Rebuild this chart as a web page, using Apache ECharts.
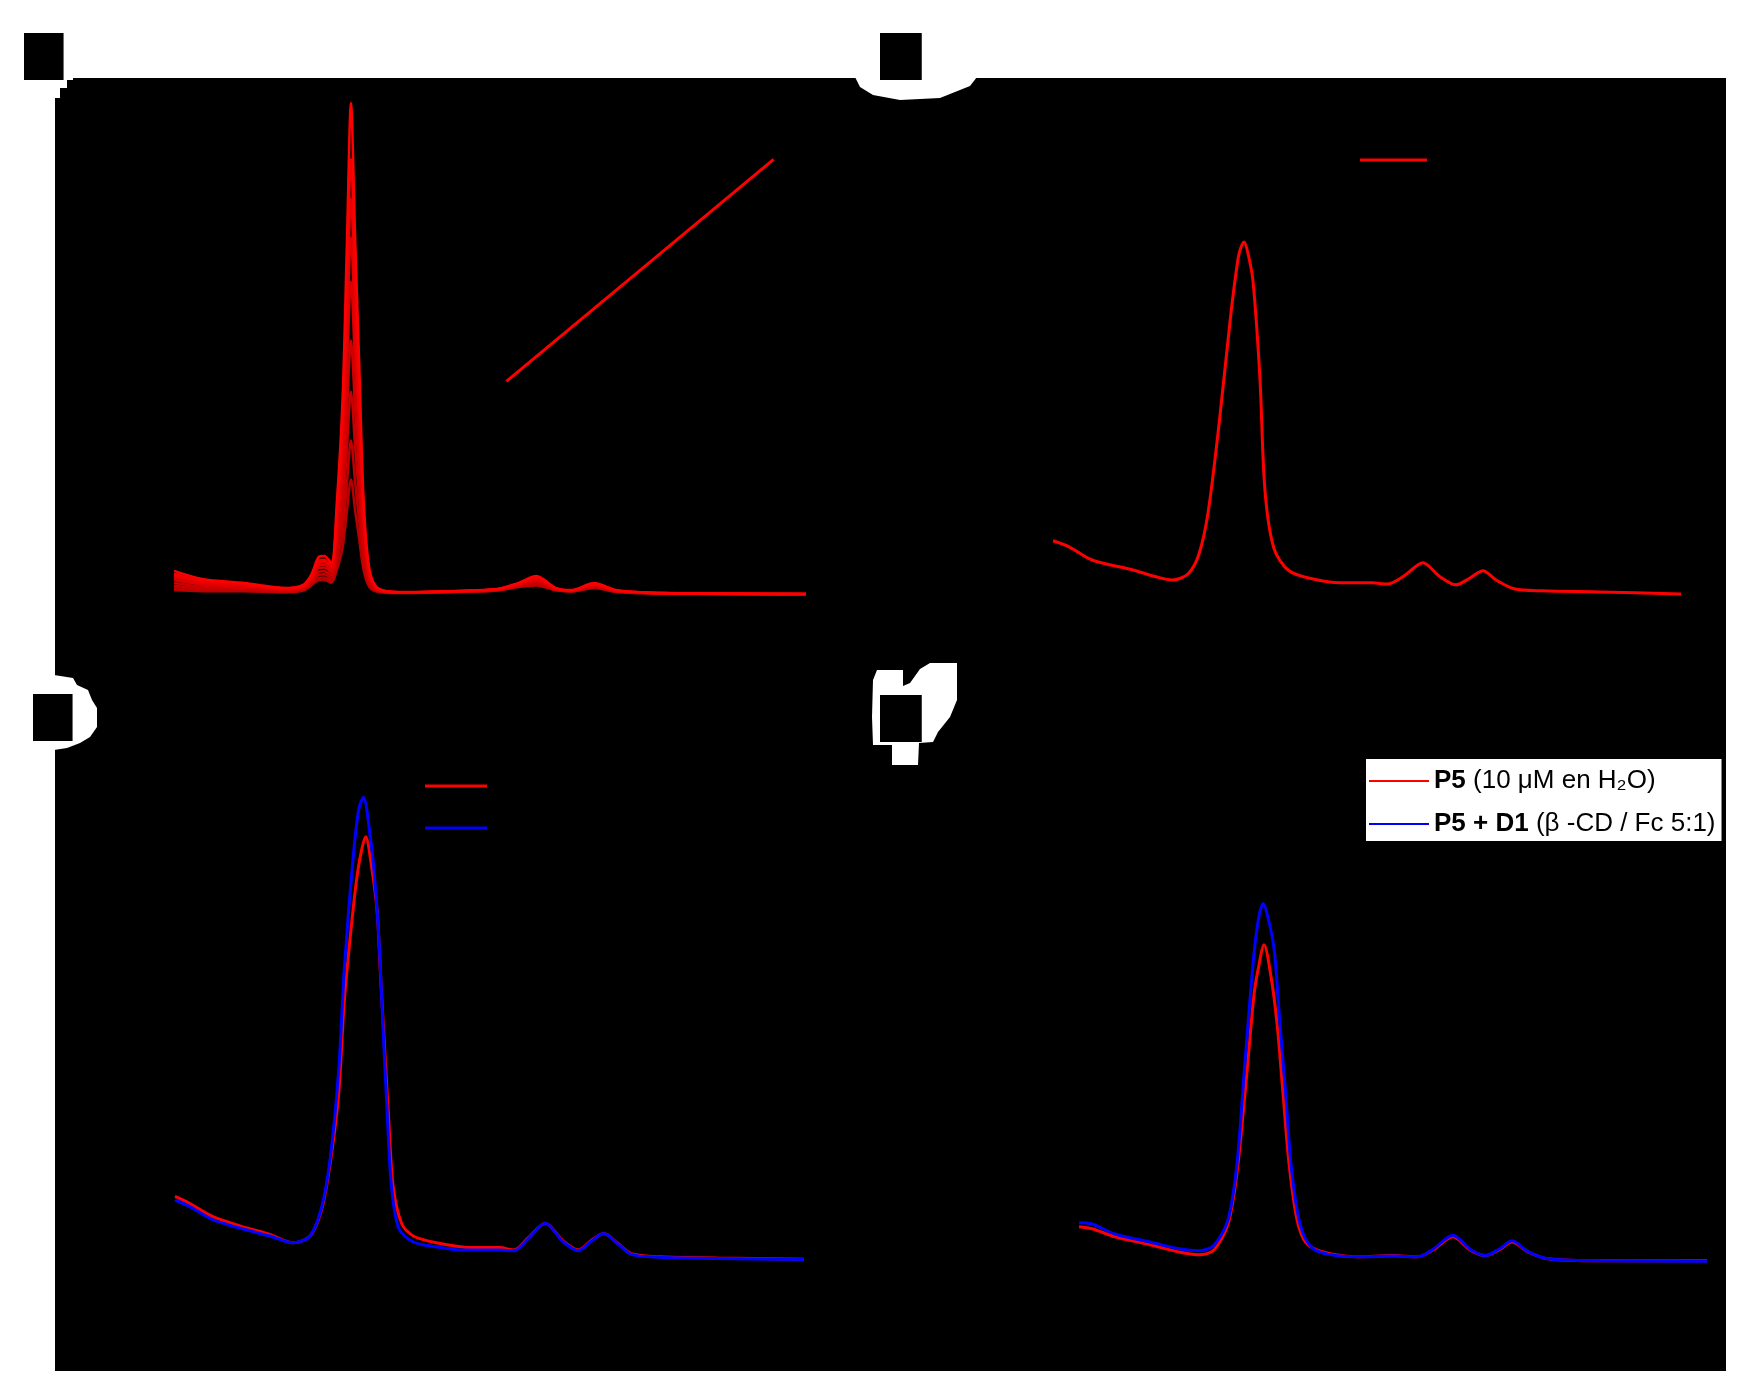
<!DOCTYPE html>
<html>
<head>
<meta charset="utf-8">
<script src="https://cdn.jsdelivr.net/npm/echarts@6/dist/echarts.min.js"></script>
<style>
  html, body { margin: 0; padding: 0; background: #fff; }
  #chart { width: 1755px; height: 1382px; }
</style>
</head>
<body>
<div id="chart"></div>
<script>
// panel a: titration, shared wavelength grid (nm), one absorbance list per addition
const wavelengthsA = [300, 320, 350, 380, 392, 398, 403, 407, 412, 416, 420, 423, 426, 429, 432, 435, 439, 445, 460, 500, 530, 545, 558, 572, 583, 599, 615, 650, 750]
const absA1 = [0.038, 0.034, 0.034, 0.030, 0.036, 0.058, 0.076, 0.077, 0.067, 0.118, 0.202, 0.334, 0.463, 0.343, 0.229, 0.115, 0.051, 0.032, 0.027, 0.031, 0.037, 0.050, 0.056, 0.037, 0.033, 0.046, 0.032, 0.025, 0.022]
const absA2 = [0.046, 0.039, 0.037, 0.031, 0.039, 0.062, 0.085, 0.087, 0.075, 0.145, 0.261, 0.439, 0.613, 0.451, 0.297, 0.143, 0.059, 0.034, 0.028, 0.032, 0.037, 0.051, 0.059, 0.038, 0.034, 0.048, 0.032, 0.025, 0.022]
const absA3 = [0.055, 0.045, 0.041, 0.034, 0.041, 0.067, 0.097, 0.099, 0.085, 0.179, 0.334, 0.570, 0.801, 0.586, 0.382, 0.178, 0.068, 0.035, 0.028, 0.032, 0.038, 0.053, 0.064, 0.039, 0.034, 0.050, 0.033, 0.026, 0.022]
const absA4 = [0.065, 0.051, 0.046, 0.036, 0.044, 0.073, 0.109, 0.111, 0.095, 0.214, 0.412, 0.708, 0.998, 0.728, 0.471, 0.215, 0.078, 0.037, 0.029, 0.033, 0.039, 0.055, 0.069, 0.041, 0.035, 0.053, 0.034, 0.026, 0.022]
const absA5 = [0.077, 0.059, 0.050, 0.038, 0.048, 0.080, 0.123, 0.125, 0.106, 0.256, 0.500, 0.866, 1.225, 0.891, 0.574, 0.257, 0.089, 0.039, 0.029, 0.033, 0.039, 0.058, 0.075, 0.042, 0.036, 0.056, 0.035, 0.026, 0.023]
const absA6 = [0.086, 0.064, 0.054, 0.040, 0.050, 0.085, 0.133, 0.136, 0.115, 0.286, 0.566, 0.984, 1.394, 1.012, 0.650, 0.288, 0.097, 0.041, 0.030, 0.034, 0.040, 0.059, 0.079, 0.043, 0.036, 0.058, 0.036, 0.026, 0.023]
const absA7 = [0.093, 0.069, 0.057, 0.042, 0.053, 0.089, 0.142, 0.146, 0.123, 0.313, 0.625, 1.089, 1.544, 1.120, 0.718, 0.316, 0.105, 0.042, 0.030, 0.034, 0.041, 0.061, 0.083, 0.044, 0.037, 0.060, 0.036, 0.027, 0.023]
const absA8 = [0.101, 0.074, 0.060, 0.044, 0.055, 0.094, 0.152, 0.155, 0.131, 0.341, 0.685, 1.195, 1.696, 1.230, 0.787, 0.345, 0.112, 0.044, 0.030, 0.034, 0.041, 0.063, 0.087, 0.045, 0.037, 0.062, 0.037, 0.027, 0.023]
const absA9 = [0.112, 0.081, 0.065, 0.046, 0.058, 0.100, 0.165, 0.169, 0.142, 0.380, 0.769, 1.346, 1.912, 1.385, 0.885, 0.385, 0.123, 0.046, 0.031, 0.035, 0.042, 0.065, 0.092, 0.046, 0.038, 0.065, 0.038, 0.027, 0.023]
const titrationA = [absA1, absA2, absA3, absA4, absA5, absA6, absA7, absA8, absA9]
const titrationColors = ['#b80000', '#c00000', '#c80000', '#d00000', '#d80000', '#e00000', '#e80000', '#f20000', '#ff0000']

// panel a inset: linear fit of the Soret maximum vs concentration
const insetConc = [1, 9]
const insetFit = [0.45, 1.95]

// panel b: [nm, absorbance]
const specB = [[300, 0.173], [311.5, 0.158], [328, 0.125], [357.3, 0.100], [373.8, 0.083], [385.3, 0.075], [396.7, 0.090], [404.6, 0.140], [411.1, 0.243], [419, 0.465], [427.6, 0.745], [432.6, 0.878], [434.5, 0.905], [436.9, 0.920], [439.5, 0.895], [443.3, 0.823], [448.3, 0.578], [451.9, 0.298], [458.4, 0.153], [469.1, 0.098], [485.6, 0.078], [505.7, 0.068], [528.6, 0.068], [539.3, 0.065], [551.5, 0.085], [565.1, 0.118], [576.6, 0.085], [588.8, 0.063], [598.8, 0.080], [608.1, 0.098], [617.5, 0.075], [630.4, 0.053], [650.4, 0.048], [692, 0.045], [750, 0.040]]

// panel c
const specC_P5 = [[300, 0.209], [310.3, 0.192], [326.8, 0.159], [351.4, 0.130], [367.8, 0.114], [384.3, 0.093], [396.6, 0.110], [404.8, 0.175], [411, 0.291], [417.1, 0.466], [421.2, 0.700], [427.3, 0.922], [431.5, 1.038], [436.4, 1.108], [440.9, 1.027], [444.6, 0.922], [447.1, 0.758], [449.9, 0.583], [452.8, 0.408], [456.1, 0.233], [462.3, 0.140], [470.5, 0.110], [486.9, 0.093], [511.5, 0.081], [532.1, 0.081], [542.4, 0.075], [552.6, 0.105], [565, 0.142], [577.3, 0.099], [588.4, 0.075], [597.8, 0.099], [606.8, 0.116], [616.3, 0.093], [626.6, 0.066], [647.1, 0.058], [688.2, 0.055], [749.8, 0.052]]
const specC_Mix = [[300, 0.200], [310.3, 0.184], [326.8, 0.151], [351.4, 0.125], [367.8, 0.110], [384.3, 0.093], [396.6, 0.110], [404.8, 0.180], [411, 0.303], [417.1, 0.524], [421.2, 0.781], [427.3, 1.050], [431.5, 1.178], [434.8, 1.207], [439.7, 1.108], [442.6, 1.015], [445.9, 0.852], [448.7, 0.641], [451.6, 0.431], [454.9, 0.233], [460.2, 0.128], [470.5, 0.095], [486.9, 0.083], [503.3, 0.075], [532.1, 0.075], [542.4, 0.073], [552.6, 0.103], [565, 0.142], [577.3, 0.097], [588.4, 0.073], [597.8, 0.097], [606.8, 0.116], [616.3, 0.092], [626.6, 0.064], [647.1, 0.057], [688.2, 0.054], [749.8, 0.051]]

// panel d
const specD_P5 = [[300, 0.133], [309.3, 0.128], [325.8, 0.108], [350.9, 0.088], [371.7, 0.070], [386, 0.063], [396.7, 0.075], [406.8, 0.140], [413.2, 0.268], [419, 0.468], [425.4, 0.713], [428.6, 0.781], [432.6, 0.838], [437.6, 0.758], [441.9, 0.641], [446.2, 0.466], [450.5, 0.291], [456.2, 0.151], [462.7, 0.093], [474.8, 0.070], [499.9, 0.058], [524.3, 0.061], [542.9, 0.058], [553.7, 0.075], [568, 0.108], [580.2, 0.075], [590.9, 0.061], [601, 0.075], [610.3, 0.095], [621.8, 0.070], [636.1, 0.053], [673.4, 0.048], [750, 0.048]]
const specD_Mix = [[300, 0.143], [309.3, 0.140], [325.8, 0.115], [350.9, 0.095], [371.7, 0.078], [386, 0.073], [396.7, 0.087], [406.8, 0.151], [413.2, 0.291], [419, 0.548], [425.4, 0.816], [429, 0.910], [432, 0.941], [435.5, 0.905], [439.8, 0.828], [444, 0.641], [448.1, 0.466], [452.2, 0.280], [458.4, 0.140], [466.7, 0.081], [479.1, 0.064], [500, 0.058], [524.3, 0.060], [542.9, 0.058], [553.7, 0.077], [568, 0.112], [580.2, 0.077], [590.9, 0.061], [601, 0.077], [610.3, 0.098], [621.8, 0.071], [636.1, 0.053], [673.4, 0.048], [750, 0.047]]

const NAME_P5 = 'P5 (10 μM en H₂O)'
const NAME_MIX = 'P5 + D1 (β -CD / Fc 5:1)'
const panelLabels = ['a)', 'b)', 'c)', 'd)']

const FONT = 'Liberation Sans'
const RED = '#ff0000'
const BLUE = '#0000ff'

function xAxisFor(gridIndex, opts) {
	return {
		gridIndex,
		type: 'value',
		min: 300,
		max: 750,
		interval: 100,
		name: 'λ (nm)',
		nameLocation: 'middle',
		nameGap: 42,
		nameTextStyle: { color: '#000', fontSize: 24, fontFamily: FONT },
		axisLine: { lineStyle: { color: '#000', width: 2 } },
		axisTick: { lineStyle: { color: '#000', width: 2 } },
		axisLabel: { color: '#000', fontSize: 22, fontFamily: FONT },
		splitLine: { show: false },
		...opts,
	}
}

function yAxisFor(gridIndex, max, interval, opts) {
	return {
		gridIndex,
		type: 'value',
		min: 0,
		max,
		interval,
		name: 'Absorbancia',
		nameLocation: 'middle',
		nameGap: 58,
		nameTextStyle: { color: '#000', fontSize: 24, fontFamily: FONT },
		axisLine: { show: true, lineStyle: { color: '#000', width: 2 } },
		axisTick: { show: true, lineStyle: { color: '#000', width: 2 } },
		axisLabel: { color: '#000', fontSize: 22, fontFamily: FONT },
		splitLine: { show: false },
		...opts,
	}
}

function spectrum(name, data, color, xIdx, yIdx, width = 3) {
	return {
		name,
		type: 'line',
		xAxisIndex: xIdx,
		yAxisIndex: yIdx,
		data,
		symbol: 'none',
		smooth: 0.3,
		lineStyle: { color, width },
		itemStyle: { color },
		silent: true,
	}
}

const legendFormatter = (name) =>
	name === NAME_P5 ? '{b|P5} (10 μM en H₂O)' : '{b|P5 + D1} (β -CD / Fc 5:1)'

const legendText = {
	color: '#000',
	fontSize: 26,
	fontFamily: FONT,
	lineHeight: 28,
	rich: { b: { fontWeight: 'bold', fontSize: 26, fontFamily: FONT, color: '#000', lineHeight: 28 } },
}

const series = []
titrationA.forEach((arr, i) => {
	series.push(spectrum('A' + (i + 1), wavelengthsA.map((w, j) => [w, arr[j]]), titrationColors[i], 0, 0, 2.5))
})
series.push(spectrum('ajuste', insetConc.map((c, i) => [c, insetFit[i]]), RED, 1, 1, 3))
series.push(spectrum(NAME_P5, specB, RED, 2, 2))
series.push(spectrum(NAME_P5, specC_P5, RED, 3, 3))
series.push(spectrum(NAME_MIX, specC_Mix, BLUE, 3, 3))
series.push(spectrum(NAME_P5, specD_P5, RED, 4, 4))
series.push(spectrum(NAME_MIX, specD_Mix, BLUE, 4, 4))

const labelPos = [[24, 33], [880, 33], [33, 694], [880, 695]]

const option = {
	animation: false,
	backgroundColor: '#fff',
	grid: [
		{ left: 174, top: 80, width: 632, height: 520, outerBoundsMode: 'none' },
		{ left: 473, top: 152, width: 334, height: 296, outerBoundsMode: 'none' },
		{ left: 1053, top: 130, width: 628, height: 480, outerBoundsMode: 'none' },
		{ left: 175, top: 720, width: 629, height: 560, outerBoundsMode: 'none' },
		{ left: 1079, top: 720, width: 628, height: 560, outerBoundsMode: 'none' },
	],
	xAxis: [
		xAxisFor(0),
		xAxisFor(1, { min: 0, max: 10, interval: 2, name: '[D1] (μM)', nameGap: 32, axisLabel: { color: '#000', fontSize: 18, fontFamily: FONT } }),
		xAxisFor(2),
		xAxisFor(3),
		xAxisFor(4),
	],
	yAxis: [
		yAxisFor(0, 2.0, 0.5, { axisLabel: { color: '#000', fontSize: 22, fontFamily: FONT, showMaxLabel: false } }),
		yAxisFor(1, 2.0, 0.5, { nameGap: 44, axisLabel: { color: '#000', fontSize: 18, fontFamily: FONT } }),
		yAxisFor(2, 1.2, 0.2),
		yAxisFor(3, 1.4, 0.2),
		yAxisFor(4, 1.4, 0.2),
	],
	legend: [
		{
			data: [NAME_P5], left: 1360, top: 146, padding: 0, icon: 'rect',
			itemWidth: 67, itemHeight: 3, formatter: legendFormatter, textStyle: legendText,
		},
		{
			data: [NAME_P5, NAME_MIX], left: 425, top: 772, padding: 0, orient: 'vertical', icon: 'rect',
			itemWidth: 62, itemHeight: 3, itemGap: 14, formatter: legendFormatter, textStyle: legendText,
		},
		{
			data: [NAME_P5, NAME_MIX], left: 1366, top: 759, padding: [8, 6, 3, 3], orient: 'vertical', icon: 'rect',
			backgroundColor: '#fff', itemWidth: 60, itemHeight: 2, itemGap: 15,
			formatter: legendFormatter, textStyle: legendText,
		},
	],
	graphic: [
		// transparent area of the original figure (shows as black)
		{
			type: 'polygon', z: -100, silent: true,
			shape: { points: [[73, 78], [1726, 78], [1726, 1371], [55, 1371], [55, 98], [60, 98], [60, 88], [67, 88], [67, 80], [73, 80]] },
			style: { fill: '#000' },
		},
		// white patches around panel labels
		{
			type: 'polygon', z: -99, silent: true,
			shape: { points: [[855, 77], [977, 77], [970, 86], [940, 98], [900, 100], [873, 95], [860, 87]] },
			style: { fill: '#fff' },
		},
		{
			type: 'polygon', z: -99, silent: true,
			shape: { points: [[54, 675], [73, 678], [77, 685], [88, 690], [92, 700], [97, 708], [97, 727], [90, 737], [80, 743], [67, 748], [54, 750]] },
			style: { fill: '#fff' },
		},
		{
			type: 'polygon', z: -99, silent: true,
			shape: { points: [[873, 680], [877, 670], [903, 670], [903, 686], [910, 683], [920, 669], [930, 663], [957, 663], [957, 700], [950, 717], [938, 732], [933, 742], [919, 743], [918, 765], [892, 765], [892, 745], [873, 745], [872, 717]] },
			style: { fill: '#fff' },
		},
		...panelLabels.map((t, i) => ({
			type: 'text', z: -98, silent: true,
			x: labelPos[i][0], y: labelPos[i][1],
			style: {
				text: t, fill: '#000', backgroundColor: '#000',
				font: 'bold 40px "Liberation Sans"', lineHeight: 41, padding: [3, 2, 3, 2],
			},
		})),
	],
	series,
}

const chart = echarts.init(document.getElementById('chart'), null, { renderer: 'canvas' })
chart.setOption(option)
</script>
</body>
</html>
